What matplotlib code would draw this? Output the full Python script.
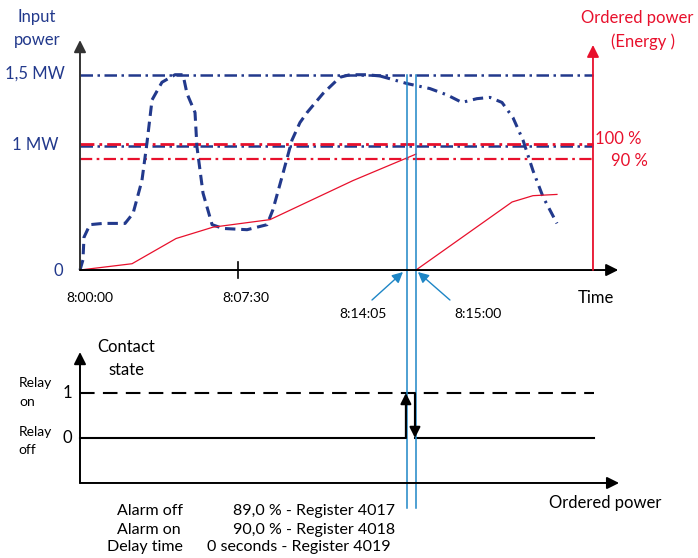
"""
Alarm on ordered power: input power, ordered energy and relay contact state.
"""

import matplotlib
matplotlib.use("Agg")
from matplotlib import pyplot as plt

plt.rcParams["font.family"] = ["Lato", "DejaVu Sans"]

BLUE = "#22398c"
RED = "#e8102c"
CYAN = "#1e86c6"

# time in minutes after 8:00:00, power in MW (schematic, not to scale)
input_t_dashed = [0.0, 0.14, 0.19, 0.47, 1.09, 2.14, 2.52, 2.94, 3.18, 3.42, 3.89,
                  4.51, 4.89, 5.08, 5.46, 5.55, 5.84, 6.27, 6.79, 7.93, 8.88,
                  9.16, 9.64, 10.06, 10.44, 10.78, 11.53, 12.34, 12.82, 13.62, 14.24]
input_p_dashed = [0.0, 0.08, 0.26, 0.36, 0.37, 0.37, 0.45, 0.71, 1.01, 1.35, 1.49,
                  1.55, 1.55, 1.40, 1.25, 0.98, 0.61, 0.36, 0.33, 0.32, 0.36,
                  0.48, 0.77, 1.03, 1.17, 1.25, 1.40, 1.53, 1.55, 1.55, 1.54]
input_t_dashdot = [14.24, 15.52, 16.61, 17.42, 18.13, 18.84, 19.46, 20.03, 20.55,
                   21.03, 21.50, 21.98, 22.64]
input_p_dashdot = [1.54, 1.48, 1.44, 1.39, 1.33, 1.36, 1.37, 1.33, 1.21,
                   1.03, 0.79, 0.58, 0.37]

energy_t_first = [0.0, 2.47, 4.56, 6.31, 9.02, 12.96, 15.95]
energy_p_first = [0.0, 0.05, 0.25, 0.34, 0.40, 0.71, 0.92]
energy_t_second = [15.95, 20.51, 21.50, 22.64]
energy_p_second = [0.0, 0.54, 0.59, 0.60]

level_max = 1.55
level_1mw = 0.985
level_100 = 1.0
level_90 = 0.88
levels_end = 24.35

alarm_on_t = 15.52
alarm_off_t = 15.95
relay_t = [0.0, 15.47, 15.90, 24.4]

y_labels = ["1,5 MW", "1 MW", "0"]
alarm_rows = [("Alarm off", "89,0 % - Register 4017"),
              ("Alarm on", "90,0 % - Register 4018"),
              ("Delay time", "0 seconds - Register 4019")]

W, H = 698, 558


def fpos(x, y):
    return x / W, 1 - y / H


def arrow(ax, start, end, color="black", lw=1.3, scale=18):
    ax.annotate("", xy=end, xytext=start,
                arrowprops=dict(arrowstyle="-|>", color=color, lw=lw,
                                mutation_scale=scale, shrinkA=0, shrinkB=0))


def plot_top(ax):
    ax.set_xlim(-3.797, 29.335)
    ax.set_ylim(-0.476, 2.143)
    ax.axis("off")

    ax.plot([0, levels_end], [level_max] * 2, color=BLUE, lw=1.8,
            dashes=(5, 1.8, 1, 1.8))
    ax.plot([0, levels_end], [level_1mw] * 2, color=BLUE, lw=1.8,
            dashes=(5, 1.8, 1, 1.8))
    ax.plot([0, levels_end], [level_100] * 2, color=RED, lw=2.0,
            dashes=(5, 1.8, 1, 1.8))
    ax.plot([0, levels_end], [level_90] * 2, color=RED, lw=1.6,
            dashes=(5.5, 2, 1.2, 2))

    ax.plot(input_t_dashed, input_p_dashed, color=BLUE, lw=2.2,
            dashes=(3.4, 1.9), solid_joinstyle="round")
    ax.plot(input_t_dashdot, input_p_dashdot, color=BLUE, lw=2.2,
            dashes=(3.4, 1.9, 0.8, 1.9))

    ax.plot(energy_t_first, energy_p_first, color=RED, lw=0.9)
    ax.plot(energy_t_second, energy_p_second, color=RED, lw=0.9)

    for t in (alarm_on_t, alarm_off_t):
        ax.plot([t, t], [level_max, -0.476], color=CYAN, lw=1.1)

    arrow(ax, (0, 0), (0, 1.825), color="#333333", lw=1.4)
    arrow(ax, (0, 0), (25.55, 0), lw=1.4)
    arrow(ax, (levels_end, 0), (levels_end, 1.786), color=RED, lw=1.3)
    ax.plot([7.5, 7.5], [0.063, -0.063], color="black", lw=1.2)

    arrow(ax, (13.86, -0.238), (15.33, -0.016), color=CYAN, lw=1.0, scale=16)
    arrow(ax, (17.56, -0.238), (16.04, -0.016), color=CYAN, lw=1.0, scale=16)


def plot_bottom(ax):
    ax.set_xlim(-3.797, 29.335)
    ax.set_ylim(-2.667, 2.4)
    ax.axis("off")

    arrow(ax, (0, -1.0), (0, 1.91), lw=1.4)
    arrow(ax, (0, -1.0), (25.59, -1.0), lw=1.4)

    ax.plot([relay_t[0], relay_t[3]], [1, 1], color="black", lw=1.5,
            dashes=(7, 4))
    ax.plot([relay_t[0], relay_t[1]], [0, 0], color="black", lw=1.5)
    ax.plot([relay_t[2], relay_t[3]], [0, 0], color="black", lw=1.5)
    arrow(ax, (relay_t[1], 0), (relay_t[1], 1), lw=1.5, scale=16)
    arrow(ax, (relay_t[2], 1), (relay_t[2], 0), lw=1.5, scale=16)

    for t in (alarm_on_t, alarm_off_t):
        ax.plot([t, t], [2.4, -1.56], color=CYAN, lw=1.1)


def add_texts(fig):
    def txt(x, y, s, color="black", size=12, ha="center"):
        fig.text(*fpos(x, y), s, color=color, fontsize=size, ha=ha, va="center")

    txt(37, 17, "Input", BLUE)
    txt(37, 40, "power", BLUE)
    txt(35, 74, y_labels[0], BLUE)
    txt(35, 145, y_labels[1], BLUE)
    txt(58, 271, y_labels[2], BLUE)

    txt(637, 18, "Ordered power", RED)
    txt(643, 42, "(Energy )", RED)
    txt(618, 139, "100 %", RED)
    txt(629, 161, "90 %", RED)

    txt(90, 298, "8:00:00", size=10)
    txt(246, 298, "8:07:30", size=10)
    txt(363, 314, "8:14:05", size=10)
    txt(478, 314, "8:15:00", size=10)
    txt(596, 298, "Time")

    txt(126, 347, "Contact")
    txt(126, 370, "state")
    txt(35, 383, "Relay", size=10)
    txt(27, 402, "on", size=10)
    txt(35, 432, "Relay", size=10)
    txt(27, 450, "off", size=10)
    txt(67, 393, "1")
    txt(67, 438, "0")
    txt(605, 503, "Ordered power")

    rows_y = [511, 530, 547]
    for (name, value), y in zip(alarm_rows, rows_y):
        if name == "Delay time":
            txt(107, y, name, size=11.5, ha="left")
            txt(391, y, value, size=11.5, ha="right")
        else:
            txt(117, y, name, size=11.5, ha="left")
            txt(395, y, value, size=11.5, ha="right")


def main():
    fig = plt.figure(figsize=(W / 100, H / 100), dpi=100)
    ax_top = fig.add_axes([0, 1 - 330 / H, 1, 330 / H])
    ax_bot = fig.add_axes([0, 0, 1, 228 / H])
    plot_top(ax_top)
    plot_bottom(ax_bot)
    add_texts(fig)
    fig.savefig("out.png", dpi=100)


if __name__ == "__main__":
    main()
